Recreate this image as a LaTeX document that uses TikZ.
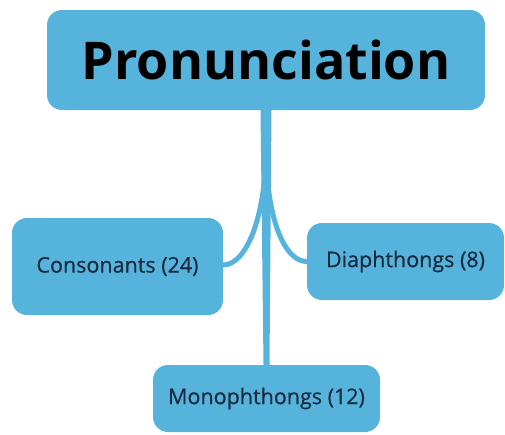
\documentclass[tikz,border=0pt]{standalone}
\usepackage{fontspec}
\setmainfont{Open Sans}
\newfontfamily\childfont[FakeBold=0.6]{Open Sans}
\usetikzlibrary{calc}
\definecolor{boxblue}{HTML}{56B4DC}
\definecolor{childtext}{HTML}{1A2B40}
\tikzset{
  topic/.style={fill=boxblue, draw=none, rounded corners=15pt, inner sep=0pt, align=center},
  roottopic/.style={topic, font=\fontsize{52}{60}\selectfont\bfseries, text=black},
  subtopic/.style={topic, font=\childfont\fontsize{21.5}{24}\selectfont, text=childtext},
  branch/.style={draw=boxblue, line width=5pt, line cap=round},
}
\begin{document}
\begin{tikzpicture}[x=1pt,y=-1pt]
\useasboundingbox (0,0) rectangle (505,434);
\node[roottopic, minimum width=438pt, minimum height=100pt] (root) at (266,60) {Pronunciation};
\node[subtopic, minimum width=211pt, minimum height=97pt] (cons) at (117.5,266.5) {Consonants (24)};
\node[subtopic, minimum width=197pt, minimum height=77pt] (diaph) at (405.5,261.5) {Diaphthongs (8)};
\node[subtopic, minimum width=227pt, minimum height=67pt] (mono) at (266.5,398.5) {Monophthongs (12)};
% trunk
\fill[boxblue] ([xshift=-5.5pt]root.south) -- ([xshift=5.5pt]root.south) -- ([xshift=3pt]mono.north) -- ([xshift=-3pt]mono.north) -- cycle;
% branches
\draw[branch] ([yshift=-35pt]root.south) .. controls +(0,75) and +(22,0) .. ([yshift=1.5pt]cons.east);
\draw[branch] ([yshift=-35pt]root.south) .. controls +(0,75) and +(-22,0) .. (diaph.west);
\end{tikzpicture}
\end{document}
